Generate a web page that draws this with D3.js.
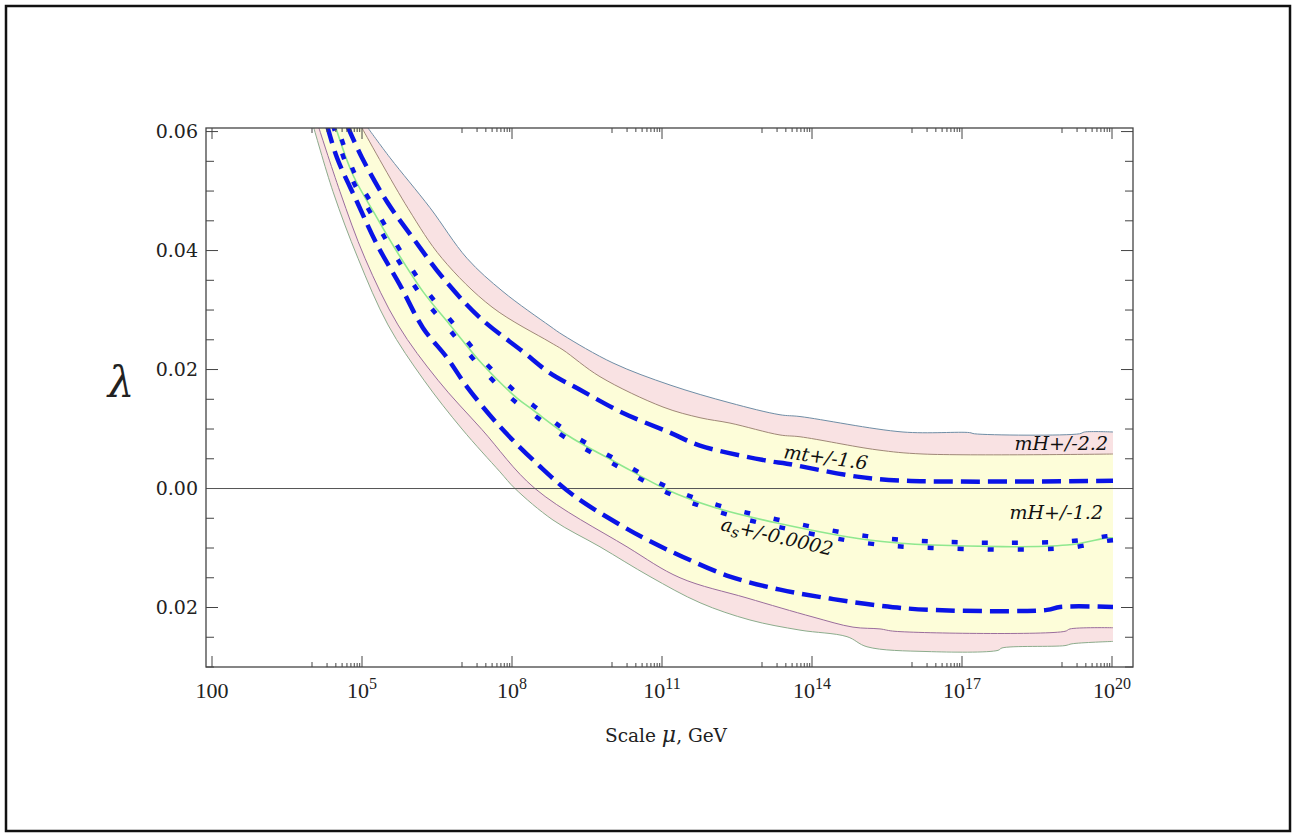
<!DOCTYPE html>
<html><head><meta charset="utf-8">
<script src="https://cdn.jsdelivr.net/npm/d3@7"></script>
<style>body{margin:0;background:#fff}svg{display:block}</style>
</head><body>
<svg id="chart" width="1302" height="836"></svg>
<script>
// ---- data: [log10(mu / GeV), lambda] ----
const outerUpper = [[5.12,0.0606],[5.56,0.0556],[6.36,0.0472],[7.10,0.0387],[7.82,0.0331],[8.76,0.0273],[9.02,0.0258],[10.02,0.0211],[11.16,0.0174],[12.36,0.0144],[13.36,0.0124],[13.76,0.0121],[15.82,0.0095],[17.15,0.0094],[17.25,0.0092],[19.35,0.0092],[19.45,0.0095],[20.02,0.0095]];
const innerUpper = [[5.0,0.0606],[5.92,0.0471],[6.60,0.0387],[7.60,0.0305],[8.76,0.0246],[9.02,0.0233],[9.76,0.0188],[11.02,0.0137],[11.76,0.0119],[12.36,0.0110],[13.36,0.0090],[13.76,0.0087],[15.30,0.0065],[16.22,0.0058],[20.02,0.0058]];
const mtUpper = [[4.70,0.0611],[5.0,0.0556],[5.5,0.0482],[6.02,0.0421],[6.62,0.0354],[7.36,0.0287],[8.22,0.0230],[8.76,0.0194],[9.36,0.0166],[10.22,0.0127],[11.16,0.0094],[11.76,0.0072],[13.22,0.0045],[13.42,0.0043],[14.9,0.0020],[15.9,0.0013],[20.02,0.0013]];
const central = [[4.46,0.0611],[4.82,0.0527],[5.3,0.0455],[5.7,0.0398],[6.22,0.0331],[6.76,0.0275],[7.42,0.0208],[8.1,0.0152],[8.42,0.0132],[9.1,0.0090],[10.1,0.0043],[11.1,-0.0002],[12.02,-0.0031],[13.3,-0.0058],[15.1,-0.0086],[16.42,-0.0095],[19.1,-0.0095],[19.9,-0.0083],[20.02,-0.0083]];
const asPlus = [[4.5,0.0611],[4.85,0.0530],[5.35,0.0458],[5.75,0.0402],[6.27,0.0335],[6.8,0.0280],[7.45,0.0213],[8.15,0.0157],[8.45,0.0138],[9.12,0.0095],[10.1,0.0048],[11.1,0.0003],[12.0,-0.0025],[13.3,-0.0052],[15.1,-0.0080],[16.4,-0.0089],[19.1,-0.0089],[19.9,-0.0080],[20.02,-0.0079]];
const asMinus = [[4.42,0.0611],[4.78,0.0524],[5.25,0.0452],[5.65,0.0394],[6.17,0.0326],[6.72,0.0270],[7.38,0.0203],[8.05,0.0147],[8.4,0.0126],[9.08,0.0085],[10.1,0.0038],[11.1,-0.0007],[12.04,-0.0037],[13.3,-0.0064],[15.1,-0.0092],[16.4,-0.0100],[19.1,-0.0100],[19.9,-0.0088],[20.02,-0.0087]];
const mtLower = [[4.3,0.0611],[4.5,0.0556],[4.9,0.0482],[5.3,0.0410],[5.76,0.0342],[6.22,0.0270],[6.7,0.0220],[7.1,0.0171],[7.76,0.0104],[8.56,0.0037],[9.22,-0.0011],[10.1,-0.0058],[10.7,-0.0086],[11.42,-0.0115],[12.36,-0.0148],[13.36,-0.0170],[14.36,-0.0185],[15.36,-0.0197],[16.36,-0.0204],[18.7,-0.0204],[18.96,-0.0199],[20.02,-0.0199]];
const innerLower = [[4.12,0.0611],[4.56,0.0499],[5.06,0.0387],[5.72,0.0275],[6.52,0.0182],[7.4,0.0099],[8.46,0.0],[10.3,-0.0098],[11.36,-0.0150],[12.7,-0.0184],[14.02,-0.0216],[14.82,-0.0233],[15.36,-0.0236],[15.66,-0.0240],[19.06,-0.0240],[19.16,-0.0236],[20.02,-0.0234]];
const outerLower = [[4.02,0.0611],[4.42,0.0499],[4.92,0.0387],[5.52,0.0275],[6.24,0.0182],[7.0,0.0100],[7.76,0.0028],[8.06,0.0],[8.82,-0.0053],[9.76,-0.0098],[10.76,-0.0148],[11.76,-0.0192],[12.76,-0.0221],[13.76,-0.0238],[14.7,-0.0249],[15.1,-0.0266],[16.3,-0.0274],[17.72,-0.0272],[17.8,-0.0268],[19.06,-0.0264],[19.2,-0.0261],[20.02,-0.0257]];

const xTickExps = [2,5,8,11,14,17,20];
const yTickValues = [-0.02,0,0.02,0.04,0.06];
const yTickLabels = ["0.02","0.00","0.02","0.04","0.06"];
const curveLabels = ["mt+/-1.6","mH+/-2.2","mH+/-1.2","+/-0.0002"];

// ---- layout ----
const svg = d3.select("#chart");
const m = {left:206, right:1133, top:128, bottom:667};
const x = d3.scaleLog().domain([Math.pow(10,1.88), Math.pow(10,20.42)]).range([m.left,m.right]);
const y = d3.scaleLinear().domain([-0.03,0.0606]).range([m.bottom,m.top]);
const px = d => x(Math.pow(10,d[0]));
const py = d => y(d[1]);

svg.append("rect").attr("x",6).attr("y",6).attr("width",1284).attr("height",825)
  .attr("fill","#fff").attr("stroke","#111").attr("stroke-width",2.5);

svg.append("defs").append("clipPath").attr("id","clip").append("rect")
  .attr("x",m.left).attr("y",m.top).attr("width",m.right-m.left).attr("height",m.bottom-m.top);

const g = svg.append("g").attr("clip-path","url(#clip)");
const line = d3.line().x(px).y(py).curve(d3.curveCatmullRom.alpha(0.5));

function band(up, lo){
  const a = line(up), b = line(lo.slice().reverse());
  return a + "L" + b.slice(1) + "Z";
}
g.append("path").attr("d",band(outerUpper,outerLower)).attr("fill","#f9e2e3");
g.append("path").attr("d",band(innerUpper,innerLower)).attr("fill","#fdfdd9");

const edges = [[outerUpper,"#6f8ea6"],[innerUpper,"#a08878"],[innerLower,"#9a6e9c"],[outerLower,"#8cac8c"]];
edges.forEach(([d,c])=>g.append("path").attr("d",line(d)).attr("fill","none").attr("stroke",c).attr("stroke-width",1));

// zero line
g.append("line").attr("x1",m.left).attr("x2",m.right).attr("y1",y(0)).attr("y2",y(0))
  .attr("stroke","#555").attr("stroke-width",1);

g.append("path").attr("d",line(central)).attr("fill","none").attr("stroke","#8fe88f").attr("stroke-width",1.6);
[asPlus,asMinus].forEach((d,i)=>g.append("path").attr("d",line(d)).attr("fill","none")
  .attr("stroke","#0a14e6").attr("stroke-width",4.5).attr("stroke-dasharray","6,24").attr("stroke-dashoffset",i?0:15));
[mtUpper,mtLower].forEach(d=>g.append("path").attr("d",line(d)).attr("fill","none")
  .attr("stroke","#0a14e6").attr("stroke-width",4.5).attr("stroke-dasharray","19,8"));

// frame
svg.append("rect").attr("x",m.left).attr("y",m.top).attr("width",m.right-m.left).attr("height",m.bottom-m.top)
  .attr("fill","none").attr("stroke","#444").attr("stroke-width",1.3);

// ticks
const tk = svg.append("g").attr("stroke","#444").attr("stroke-width",1);
xTickExps.forEach(n=>{
  const v = Math.pow(10,n), xx = x(v);
  tk.append("line").attr("x1",xx).attr("x2",xx).attr("y1",m.bottom).attr("y2",m.bottom-11);
  tk.append("line").attr("x1",xx).attr("x2",xx).attr("y1",m.top).attr("y2",m.top+11);
  if(n>2){
    for(let k=1;k<=9;k++){
      const xm = x(k*Math.pow(10,n-1));
      tk.append("line").attr("x1",xm).attr("x2",xm).attr("y1",m.bottom).attr("y2",m.bottom-(k===1?5:4));
      tk.append("line").attr("x1",xm).attr("x2",xm).attr("y1",m.top).attr("y2",m.top+(k===1?5:4));
    }
  }
});
for(let i=-6;i<=12;i++){
  const v = i*0.005, yy = y(v);
  const major = (i%4===0);
  if(major && i===0) continue;
  const L = major?12:8;
  tk.append("line").attr("x1",m.left).attr("x2",m.left+L).attr("y1",yy).attr("y2",yy);
  tk.append("line").attr("x1",m.right).attr("x2",m.right-L).attr("y1",yy).attr("y2",yy);
}

// tick labels
const lab = svg.append("g").attr("fill","#222");
yTickValues.forEach((v,i)=>{
  lab.append("text").attr("x",198).attr("y",y(v)).attr("dy","0.35em").attr("text-anchor","end")
    .attr("font-family","DejaVu Serif").attr("font-size",19).text(yTickLabels[i]);
});
xTickExps.forEach(n=>{
  const t = lab.append("text").attr("x",x(Math.pow(10,n))).attr("y",698).attr("text-anchor","middle")
    .attr("font-family","Liberation Serif").attr("font-size",22);
  if(n===2){ t.text("100"); }
  else {
    t.append("tspan").text("10");
    t.append("tspan").attr("dy",-9).attr("font-size",16).text(String(n));
  }
});

// axis titles
const xt = lab.append("text").attr("x",666).attr("y",742).attr("text-anchor","middle")
  .attr("font-family","DejaVu Serif").attr("font-size",18.5);
xt.append("tspan").text("Scale ");
xt.append("tspan").attr("font-style","italic").attr("font-size",22).text("μ");
xt.append("tspan").text(", GeV");

lab.append("text").attr("x",121).attr("y",397).attr("text-anchor","middle")
  .attr("font-family","DejaVu Serif").attr("font-style","italic").attr("font-size",42).text("λ");

// curve labels
const cl = svg.append("g").attr("fill","#111").attr("font-family","DejaVu Serif").attr("font-style","italic").attr("font-size",19);
cl.append("text").attr("transform","translate(783,458) rotate(8)").text(curveLabels[0]);
cl.append("text").attr("x",1108).attr("y",450).attr("text-anchor","end").text(curveLabels[1]);
cl.append("text").attr("x",1103).attr("y",519).attr("text-anchor","end").text(curveLabels[2]);
const as = cl.append("text").attr("transform","translate(720,530) rotate(13)");
as.append("tspan").text("a");
as.append("tspan").attr("dy",4).attr("font-size",15).text("s");
as.append("tspan").attr("dy",-4).text(curveLabels[3]);
</script>
</body></html>
